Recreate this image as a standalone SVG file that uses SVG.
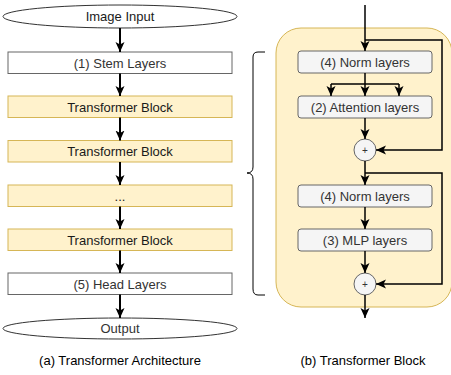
<svg xmlns="http://www.w3.org/2000/svg" width="451" height="375" viewBox="0 0 451 375">
  <defs>
    <marker id="arr" markerUnits="userSpaceOnUse" markerWidth="10" markerHeight="10" viewBox="0 0 10 10" refX="10" refY="5" orient="auto">
      <path d="M0,0.5 L10,5 L0,9.5 L2.5,5 z" fill="#000"/>
    </marker>
    <style>
      text { font-family: "Liberation Sans", Arial, sans-serif; font-size: 13px; text-anchor: middle; }
      .plain { fill: #ffffff; stroke: #666666; stroke-width: 1; }
      .tb { fill: #fff2cc; stroke: #d6b656; stroke-width: 1; }
      .ell { fill: #ffffff; stroke: #333333; stroke-width: 1; }
      .gray { fill: #f5f5f5; stroke: #666666; stroke-width: 1; }
      .t1 { fill: #1a1a1a; }
      .t2 { fill: #333333; }
      .conn path { fill: none; stroke: #000; stroke-width: 1.5; }
      .conn path.l { stroke-width: 2; }
      .conn path.a { marker-end: url(#arr); }
    </style>
  </defs>
  <rect width="451" height="375" fill="#ffffff"/>

  <!-- right panel background -->
  <g id="panel">
    <rect x="276" y="28" width="176" height="279" rx="25" ry="25" class="tb"/>
  </g>

  <!-- left column -->
  <g id="image-input">
    <ellipse cx="120" cy="16.5" rx="117" ry="11.5" class="ell"/>
    <text x="120" y="21" class="t1">Image Input</text>
  </g>
  <g id="stem">
    <rect x="8" y="52" width="224" height="21.5" class="plain"/>
    <text x="120" y="67.5" class="t2">(1) Stem Layers</text>
  </g>
  <g id="tb1">
    <rect x="8" y="96" width="224" height="21.5" class="tb"/>
    <text x="120" y="111.5" class="t1">Transformer Block</text>
  </g>
  <g id="tb2">
    <rect x="8" y="140.5" width="224" height="21.5" class="tb"/>
    <text x="120" y="156" class="t1">Transformer Block</text>
  </g>
  <g id="dots">
    <rect x="8" y="185" width="224" height="21.5" class="tb"/>
    <text x="120" y="200.5" class="t1">...</text>
  </g>
  <g id="tb3">
    <rect x="8" y="229" width="224" height="21.5" class="tb"/>
    <text x="120" y="244.5" class="t1">Transformer Block</text>
  </g>
  <g id="head">
    <rect x="8" y="273" width="224" height="21.5" class="plain"/>
    <text x="120" y="288.5" class="t2">(5) Head Layers</text>
  </g>
  <g id="output">
    <ellipse cx="120" cy="328.5" rx="117" ry="10.5" class="ell"/>
    <text x="120" y="333" class="t2">Output</text>
  </g>

  <!-- brace -->
  <g id="brace">
    <path d="M265,52 H258 Q253,52 253,57 V167 Q253,173 247,173 Q253,173 253,179 V289 Q253,295 258,295 H265" fill="none" stroke="#000" stroke-width="1"/>
  </g>

  <!-- right panel nodes -->
  <g id="norm1">
    <rect x="298" y="51" width="134" height="22" rx="3" class="gray"/>
    <text x="365" y="66.5" class="t2">(4) Norm layers</text>
  </g>
  <g id="attn">
    <rect x="298" y="96" width="134" height="22" rx="3" class="gray"/>
    <text x="365" y="111.5" class="t2">(2) Attention layers</text>
  </g>
  <g id="add1">
    <circle cx="365" cy="150" r="11" class="gray"/>
    <text x="365" y="153.5" class="t2" style="font-size:10px">+</text>
  </g>
  <g id="norm2">
    <rect x="298" y="185" width="134" height="22" rx="3" class="gray"/>
    <text x="365" y="200.5" class="t2">(4) Norm layers</text>
  </g>
  <g id="mlp">
    <rect x="298" y="229" width="134" height="22" rx="3" class="gray"/>
    <text x="365" y="244.5" class="t2">(3) MLP layers</text>
  </g>
  <g id="add2">
    <circle cx="365" cy="284" r="11" class="gray"/>
    <text x="365" y="287.5" class="t2" style="font-size:10px">+</text>
  </g>

  <!-- connectors -->
  <g id="connectors" class="conn">
    <path class="a l" d="M120,28 V52"/>
    <path class="a l" d="M120,73.5 V96"/>
    <path class="a l" d="M120,117.5 V140.5"/>
    <path class="a l" d="M120,162 V185"/>
    <path class="a l" d="M120,206.5 V229"/>
    <path class="a l" d="M120,250.5 V273"/>
    <path class="a l" d="M120,294.5 V318"/>

    <path class="a" d="M365,5 V51"/>
    <path class="a" d="M365,40 H442 V150 H376"/>
    <path d="M365,73 V84"/>
    <path d="M331,84 H399"/>
    <path class="a" d="M331,84 V96"/>
    <path class="a" d="M365,84 V96"/>
    <path class="a" d="M399,84 V96"/>
    <path class="a" d="M365,118 V139"/>
    <path class="a" d="M365,161 V185"/>
    <path class="a" d="M365,173 H442 V284 H376"/>
    <path class="a" d="M365,207 V229"/>
    <path class="a" d="M365,251 V273"/>
    <path class="a" d="M365,295 V318"/>
  </g>

  <!-- captions -->
  <text x="120" y="365" fill="#000">(a) Transformer Architecture</text>
  <text x="363" y="365" fill="#000">(b) Transformer Block</text>
</svg>
